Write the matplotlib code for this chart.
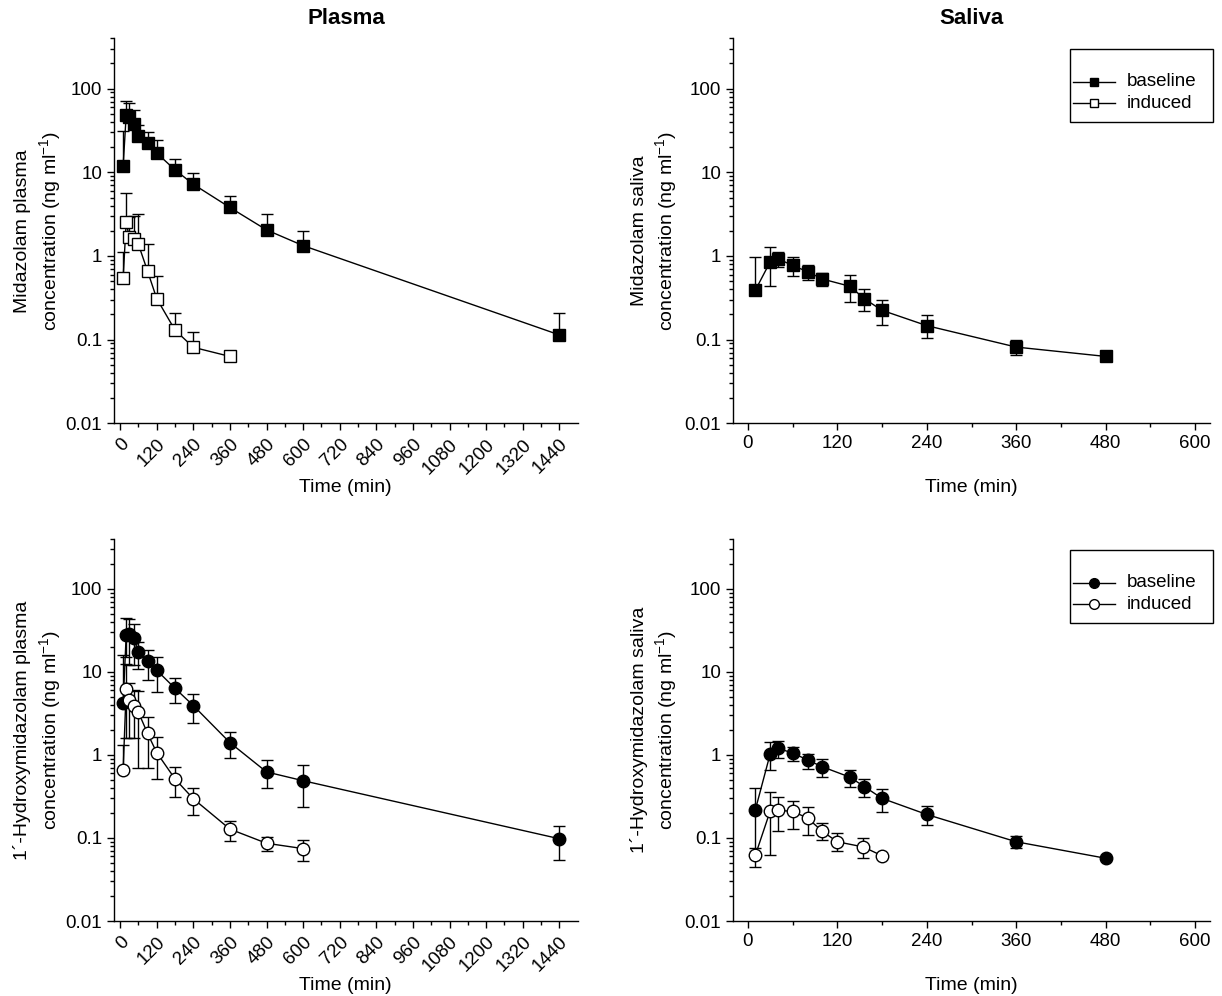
import numpy as np
import matplotlib
matplotlib.use("Agg")
import matplotlib.pyplot as plt
from matplotlib.lines import Line2D
from matplotlib.patches import Rectangle
from matplotlib.ticker import FixedLocator, LogLocator, NullFormatter, FixedFormatter

plt.rcParams["font.family"] = ["Liberation Sans", "DejaVu Sans"]
plt.rcParams["mathtext.fontset"] = "custom"
plt.rcParams["mathtext.rm"] = "Liberation Sans"

W, H = 1222, 996

# Midazolam, plasma (mean, upper end of error bar)
t_mdz_pl_base = [10, 20, 30, 45, 60, 90, 120, 180, 240, 360, 480, 600, 1440]
mdz_pl_base = [12.0, 48.5, 45.5, 37.5, 27.4, 22.2, 17.0, 10.7, 7.2, 3.8, 2.05, 1.33, 0.114]
mdz_pl_base_hi = [31.2, 71.9, 68.0, 55.6, 36.8, 30.6, 24.3, 14.6, 9.73, 5.26, 3.15, 2.01, 0.21]

t_mdz_pl_ind = [10, 20, 30, 45, 60, 90, 120, 180, 240, 360]
mdz_pl_ind = [0.55, 2.53, 1.67, 1.58, 1.38, 0.66, 0.31, 0.13, 0.081, 0.063]
mdz_pl_ind_hi = [1.12, 5.7, 2.9, 3.0, 3.18, 1.38, 0.58, 0.207, 0.124, 0.069]

# Midazolam, saliva
t_mdz_sa = [10, 30, 40, 60, 80, 100, 137, 156, 180, 240, 360, 480]
mdz_sa_base = [0.39, 0.855, 0.93, 0.77, 0.65, 0.53, 0.434, 0.309, 0.224, 0.147, 0.0815, 0.063]
mdz_sa_base_hi = [0.96, 1.29, 1.13, 0.98, 0.79, 0.63, 0.60, 0.40, 0.30, 0.196, 0.10, 0.068]
mdz_sa_base_lo = [0.39, 0.44, 0.73, 0.57, 0.51, 0.44, 0.28, 0.22, 0.15, 0.104, 0.066, 0.058]

# 1'-hydroxymidazolam, plasma
t_oh_pl_base = [10, 20, 30, 45, 60, 90, 120, 180, 240, 360, 480, 600, 1440]
oh_pl_base = [4.25, 28.1, 28.9, 25.9, 17.2, 13.4, 10.5, 6.36, 3.94, 1.41, 0.625, 0.49, 0.098]
oh_pl_base_hi = [15.8, 44.8, 42.9, 38.0, 22.9, 18.6, 15.1, 8.56, 5.4, 1.87, 0.87, 0.76, 0.14]
oh_pl_base_lo = [4.25, 15.0, 12.0, 12.0, 11.0, 8.1, 5.75, 4.24, 2.4, 0.93, 0.40, 0.235, 0.055]

t_oh_pl_ind = [10, 20, 30, 45, 60, 90, 120, 180, 240, 360, 480, 600]
oh_pl_ind = [0.66, 6.2, 4.65, 3.94, 3.28, 1.82, 1.07, 0.515, 0.297, 0.128, 0.0864, 0.0745]
oh_pl_ind_hi = [1.32, 12.6, 7.4, 6.0, 5.87, 2.88, 1.63, 0.71, 0.405, 0.161, 0.103, 0.095]
oh_pl_ind_lo = [0.66, 1.6, 1.6, 1.6, 0.69, 0.69, 0.51, 0.316, 0.19, 0.091, 0.0705, 0.0534]

# 1'-hydroxymidazolam, saliva
t_oh_sa_base = [10, 30, 40, 60, 80, 100, 137, 156, 180, 240, 360, 480]
oh_sa_base = [0.219, 1.04, 1.2, 1.06, 0.87, 0.72, 0.54, 0.417, 0.30, 0.192, 0.09, 0.057]
oh_sa_base_hi = [0.40, 1.42, 1.47, 1.26, 1.04, 0.90, 0.66, 0.52, 0.39, 0.24, 0.105, 0.059]
oh_sa_base_lo = [0.06, 0.66, 0.91, 0.85, 0.68, 0.54, 0.41, 0.31, 0.207, 0.145, 0.075, 0.055]

t_oh_sa_ind = [10, 30, 40, 60, 80, 100, 120, 155, 180]
oh_sa_ind = [0.062, 0.213, 0.216, 0.209, 0.174, 0.12, 0.09, 0.078, 0.061]
oh_sa_ind_hi = [0.075, 0.363, 0.31, 0.28, 0.236, 0.15, 0.115, 0.10, 0.062]
oh_sa_ind_lo = [0.045, 0.062, 0.122, 0.13, 0.108, 0.095, 0.07, 0.058, 0.060]

plasma_ticks = list(range(0, 1441, 120))
saliva_ticks = list(range(0, 601, 120))
series_names = ["baseline", "induced"]

FS = 13.5


def px_axes(fig, left, right, top, bottom):
    return fig.add_axes([left / W, 1 - bottom / H, (right - left) / W, (bottom - top) / H])


def style_axes(ax, xmax, ticks, rotate):
    ax.set_yscale("log")
    ax.set_ylim(0.01, 400)
    ax.set_xlim(-20, xmax)
    for s in ("top", "right"):
        ax.spines[s].set_visible(False)
    for s in ("left", "bottom"):
        ax.spines[s].set_linewidth(1.0)
    ax.yaxis.set_major_locator(FixedLocator([0.01, 0.1, 1, 10, 100]))
    ax.yaxis.set_major_formatter(FixedFormatter(["0.01", "0.1", "1", "10", "100"]))
    ax.yaxis.set_minor_locator(LogLocator(base=10, subs=np.arange(2, 10)))
    ax.yaxis.set_minor_formatter(NullFormatter())
    ax.set_xticks(ticks)
    ax.set_xticks(np.arange(60, ticks[-1] + 1, 120), minor=True)
    ax.tick_params(axis="both", which="major", direction="out", length=5, width=1,
                   labelsize=FS)
    ax.tick_params(axis="both", which="minor", direction="out", length=3, width=1)
    if rotate:
        ax.set_xticklabels([str(t) for t in ticks], rotation=45, ha="right",
                           va="top", rotation_mode="anchor")
        ax.tick_params(axis="x", which="major", pad=4)
    else:
        ax.set_xticklabels([str(t) for t in ticks])


def draw_series(ax, t, y, hi, lo, marker, filled, ms):
    y = np.asarray(y)
    up = np.asarray(hi) - y
    down = y - np.asarray(lo) if lo is not None else np.zeros_like(y)
    ax.errorbar(t, y, yerr=[down, up], fmt="none", ecolor="black",
                elinewidth=1, capsize=4, capthick=1, zorder=2)
    ax.plot(t, y, color="black", lw=1, marker=marker, ms=ms,
            mfc="black" if filled else "white", mec="black", mew=1, zorder=3,
            clip_on=False)


def draw_key(fig, marker, ms, left, right, top, bottom):
    # boxed key drawn in figure pixels
    fig.add_artist(Rectangle((left / W, 1 - bottom / H), (right - left) / W,
                             (bottom - top) / H, transform=fig.transFigure,
                             fill=False, edgecolor="black", lw=1))
    rows = [top + (bottom - top) * 0.45, top + (bottom - top) * 0.74]
    for name, yy, face in zip(series_names, rows, ["black", "white"]):
        y = 1 - yy / H
        fig.add_artist(Line2D([(left + 3) / W, (left + 45) / W], [y, y],
                              transform=fig.transFigure, color="black", lw=1))
        fig.add_artist(Line2D([(left + 24) / W], [y], transform=fig.transFigure,
                              marker=marker, ms=ms, mfc=face, mec="black", mew=1,
                              lw=0))
        fig.text((left + 57) / W, y, name, fontsize=FS, ha="left", va="center")


fig = plt.figure(figsize=(W / 100, H / 100), dpi=100)

ax_tl = px_axes(fig, 114, 577.6, 38.3, 423.3)
ax_tr = px_axes(fig, 733, 1210, 38.3, 423.3)
ax_bl = px_axes(fig, 114, 577.6, 539, 921)
ax_br = px_axes(fig, 733, 1210, 539, 921)

style_axes(ax_tl, 1500, plasma_ticks, True)
style_axes(ax_bl, 1500, plasma_ticks, True)
style_axes(ax_tr, 620, saliva_ticks, False)
style_axes(ax_br, 620, saliva_ticks, False)

draw_series(ax_tl, t_mdz_pl_base, mdz_pl_base, mdz_pl_base_hi, None, "s", True, 8)
draw_series(ax_tl, t_mdz_pl_ind, mdz_pl_ind, mdz_pl_ind_hi, None, "s", False, 8)

draw_series(ax_tr, t_mdz_sa, mdz_sa_base, mdz_sa_base_hi, mdz_sa_base_lo, "s", True, 8)

draw_series(ax_bl, t_oh_pl_base, oh_pl_base, oh_pl_base_hi, oh_pl_base_lo, "o", True, 9)
draw_series(ax_bl, t_oh_pl_ind, oh_pl_ind, oh_pl_ind_hi, oh_pl_ind_lo, "o", False, 9)

draw_series(ax_br, t_oh_sa_base, oh_sa_base, oh_sa_base_hi, oh_sa_base_lo, "o", True, 9)
draw_series(ax_br, t_oh_sa_ind, oh_sa_ind, oh_sa_ind_hi, oh_sa_ind_lo, "o", False, 9)

# axis titles
ylabels = [
    (ax_tl, "Midazolam plasma\nconcentration (ng ml$^{-1}$)", -0.108),
    (ax_tr, "Midazolam saliva\nconcentration (ng ml$^{-1}$)", -0.111),
    (ax_bl, "1\u00b4-Hydroxymidazolam plasma\nconcentration (ng ml$^{-1}$)", -0.108),
    (ax_br, "1\u00b4-Hydroxymidazolam saliva\nconcentration (ng ml$^{-1}$)", -0.111),
]
for ax, txt, xpos in ylabels:
    ax.set_ylabel(txt, fontsize=FS + 0.5, linespacing=1.3)
    ax.yaxis.set_label_coords(xpos, 0.5)

for ax, yb in ((ax_tl, 487), (ax_tr, 487), (ax_bl, 985), (ax_br, 985)):
    bb = ax.get_position()
    fig.text(bb.x0 + bb.width / 2, 1 - yb / H, "Time (min)", fontsize=FS + 0.5,
             ha="center", va="center")

fig.text(346 / W, 1 - 18 / H, "Plasma", fontsize=16, fontweight="bold",
         ha="center", va="center")
fig.text(971 / W, 1 - 18 / H, "Saliva", fontsize=16, fontweight="bold",
         ha="center", va="center")

draw_key(fig, "s", 6, 1070, 1213, 49, 122)
draw_key(fig, "o", 7, 1070, 1213, 550, 623)

fig.savefig("out.png", dpi=100)
